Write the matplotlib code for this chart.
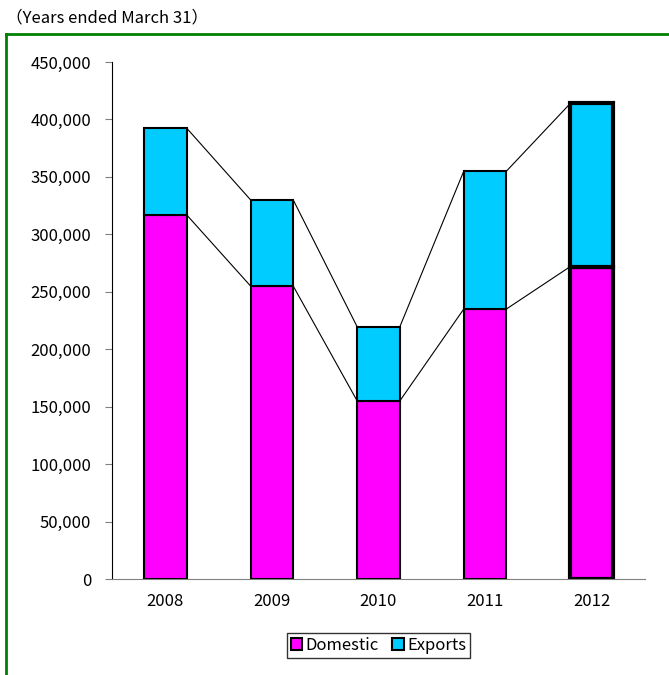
import matplotlib.pyplot as plt
from matplotlib.lines import Line2D

plt.rcParams['font.family'] = ['Noto Sans CJK JP', 'DejaVu Sans']

years = ["2008", "2009", "2010", "2011", "2012"]
domestic = [317000, 255000, 155000, 235000, 272000]
exports = [75500, 75000, 64500, 120000, 142000]
totals = [d + e for d, e in zip(domestic, exports)]

fig = plt.figure(figsize=(6.69, 6.75), dpi=100)
W, H = 669, 675
ax = fig.add_axes([112 / W, 1 - 579 / H, (645 - 112) / W, (579 - 62) / H])

x = list(range(len(years)))
width = 0.4
edge_w = [1.5, 1.5, 1.5, 1.5, 3.0]
ax.bar(x, domestic, width, color="#ff00ff", edgecolor="black", linewidth=edge_w, label="Domestic")
ax.bar(x, exports, width, bottom=domestic, color="#00ccff", edgecolor="black", linewidth=edge_w, label="Exports")

# connector lines between bar tops
for i in range(len(years) - 1):
    ax.plot([x[i] + width / 2, x[i + 1] - width / 2], [domestic[i], domestic[i + 1]], color="black", lw=0.8)
    ax.plot([x[i] + width / 2, x[i + 1] - width / 2], [totals[i], totals[i + 1]], color="black", lw=0.8)

ax.set_xlim(-0.5, 4.5)
ax.set_ylim(0, 450000)
ax.set_yticks(range(0, 450001, 50000))
ax.set_yticklabels([f"{v:,}" for v in range(0, 450001, 50000)], fontsize=12)
ax.set_xticks(x)
ax.set_xticklabels(years, fontsize=12)
ax.tick_params(axis="x", length=0, pad=10)
ax.tick_params(axis="y", length=5, color="#808080", pad=10)
ax.spines["top"].set_visible(False)
ax.spines["right"].set_visible(False)
ax.spines["bottom"].set_color("#808080")
ax.spines["left"].set_color("black")

ax.legend(loc="upper center", bbox_to_anchor=(0.5, -0.088), ncol=2, frameon=True, fancybox=False,
          edgecolor="black", fontsize=12, handlelength=0.7, handleheight=0.7,
          handletextpad=0.2, columnspacing=0.8, borderpad=0.25)

fig.text(6 / W, 1 - 18 / H, "（Years ended March 31）", fontsize=12, va="center", ha="left")

# green frame (left and top)
fig.add_artist(Line2D([6 / W, 6 / W], [0, 1 - 34 / H], color="#008000", lw=2, transform=fig.transFigure))
fig.add_artist(Line2D([6 / W, 1], [1 - 34 / H, 1 - 34 / H], color="#008000", lw=2, transform=fig.transFigure))

fig.savefig("out.png", dpi=100)
